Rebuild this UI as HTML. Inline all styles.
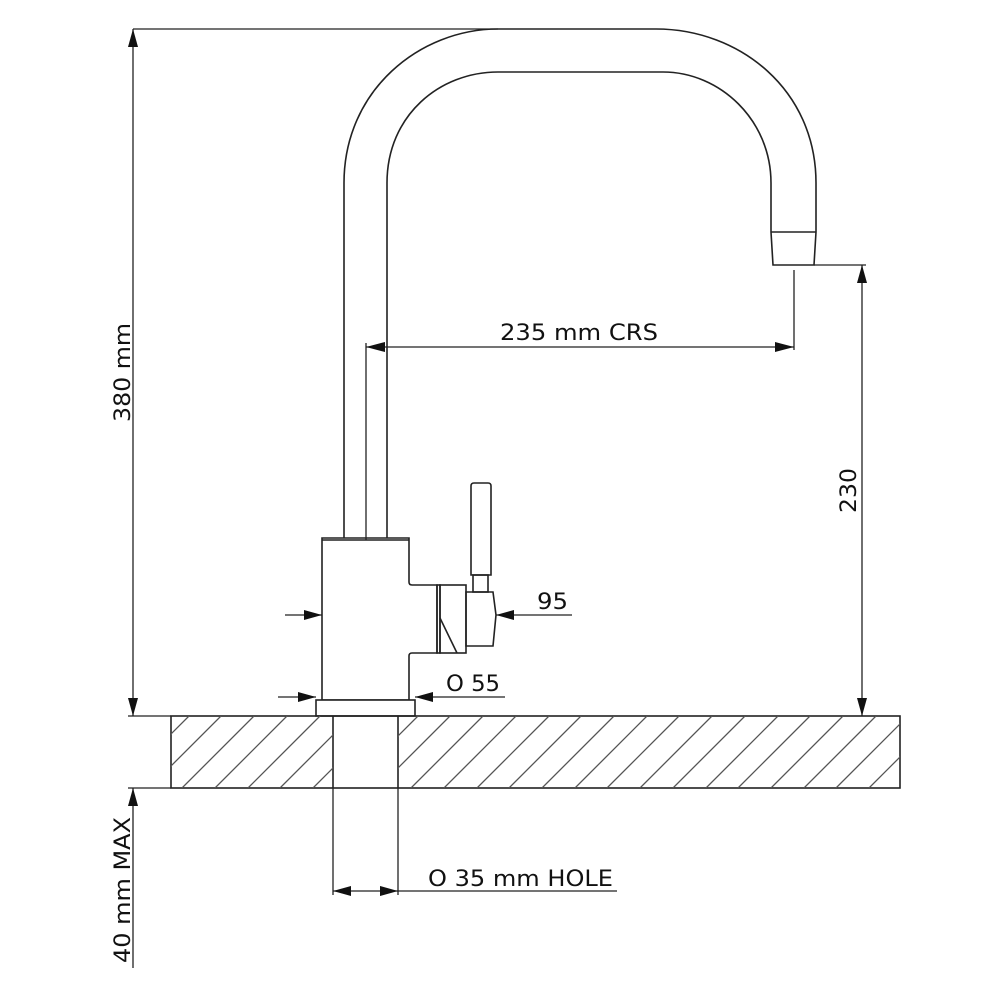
<!DOCTYPE html>
<html><head><meta charset="utf-8"><style>html,body{margin:0;padding:0;background:#fff}svg{display:block}</style></head>
<body>
<svg width="1000" height="1000" viewBox="0 0 1000 1000" xmlns="http://www.w3.org/2000/svg">
<defs>
<clipPath id="hc"><rect x="171" y="716" width="162" height="72"/><rect x="398" y="716" width="502" height="72"/></clipPath>
</defs>
<g fill="none" stroke="#222" stroke-width="1.6">
<!-- spout outer -->
<path d="M344 700 L344 183 C344 90 420 29 498 29 L656 29 C740 29 816 90 816 183 L816 232 L814 265 L773 265 L771 232 L771 183 C771 120 720 72 663 72 L498 72 C440 72 387 115 387 183 L387 540"/>
<line x1="771" y1="232" x2="816" y2="232"/>
<!-- body -->
<path d="M322 538 L409 538 L409 582 Q409 585 412 585 L437 585 L437 653 L412 653 Q409 653 409 656 L409 700 L322 700 Z" fill="#fff"/>
<line x1="322" y1="540" x2="409" y2="540"/>
<rect x="316" y="700" width="99" height="16" fill="#fff"/>
<!-- handle -->
<rect x="437" y="585" width="3" height="68"/>
<rect x="440" y="585" width="26" height="68"/>
<line x1="440" y1="618" x2="457" y2="653"/>
<path d="M466 592 L493 592 L496 615 L493 646 L466 646 Z"/>
<rect x="473" y="575" width="15" height="17"/>
<path d="M471 575 L471 486 Q471 483 474 483 L488 483 Q491 483 491 486 L491 575 Z"/>
<!-- countertop -->
<rect x="171" y="716" width="729" height="72"/>
<line x1="333" y1="716" x2="333" y2="788"/>
<line x1="398" y1="716" x2="398" y2="788"/>
</g>
<g clip-path="url(#hc)" stroke="#555" stroke-width="1.3">
<path d="M84 788 l72 -72 M117 788 l72 -72 M149 788 l72 -72 M182 788 l72 -72 M215 788 l72 -72 M248 788 l72 -72 M280 788 l72 -72 M313 788 l72 -72 M346 788 l72 -72 M378 788 l72 -72 M411 788 l72 -72 M444 788 l72 -72 M477 788 l72 -72 M509 788 l72 -72 M542 788 l72 -72 M575 788 l72 -72 M607 788 l72 -72 M640 788 l72 -72 M673 788 l72 -72 M706 788 l72 -72 M738 788 l72 -72 M771 788 l72 -72 M804 788 l72 -72 M836 788 l72 -72 M869 788 l72 -72 M902 788 l72 -72"/>
</g>
<!-- dimension lines -->
<g stroke="#222" stroke-width="1.3" fill="none">
<line x1="133" y1="29" x2="498" y2="29"/>
<line x1="133" y1="29" x2="133" y2="716"/>
<line x1="128" y1="716" x2="171" y2="716"/>
<line x1="128" y1="788" x2="171" y2="788"/>
<line x1="133" y1="788" x2="133" y2="968"/>
<line x1="814" y1="265" x2="866" y2="265"/>
<line x1="862" y1="265" x2="862" y2="716"/>
<line x1="794" y1="270" x2="794" y2="350"/>
<line x1="366" y1="343" x2="366" y2="540"/>
<line x1="366" y1="347" x2="794" y2="347"/>
<line x1="285" y1="615" x2="322" y2="615"/>
<line x1="496" y1="615" x2="572" y2="615"/>
<line x1="278" y1="697" x2="316" y2="697"/>
<line x1="415" y1="697" x2="505" y2="697"/>
<line x1="333" y1="788" x2="333" y2="895"/>
<line x1="398" y1="788" x2="398" y2="895"/>
<line x1="333" y1="891" x2="617" y2="891"/>
</g>
<g fill="#111">
<polygon points="133,29 128,47 138,47"/>
<polygon points="133,716 128,698 138,698"/>
<polygon points="133,788 128,806 138,806"/>
<polygon points="862,265 857,283 867,283"/>
<polygon points="862,716 857,698 867,698"/>
<polygon points="366,347 385,342 385,352"/>
<polygon points="794,347 775,342 775,352"/>
<polygon points="322,615 304,610 304,620"/>
<polygon points="496,615 514,610 514,620"/>
<polygon points="316,697 298,692 298,702"/>
<polygon points="415,697 433,692 433,702"/>
<polygon points="333,891 351,886 351,896"/>
<polygon points="398,891 380,886 380,896"/>
</g>
<g font-family="'DejaVu Sans','Liberation Sans',sans-serif" font-size="22" fill="#111">
<text x="500" y="340" textLength="158" lengthAdjust="spacingAndGlyphs">235 mm CRS</text>
<text x="537" y="609" textLength="31" lengthAdjust="spacingAndGlyphs">95</text>
<text x="446" y="691" textLength="54" lengthAdjust="spacingAndGlyphs">O 55</text>
<text x="428" y="886" textLength="185" lengthAdjust="spacingAndGlyphs">O 35 mm HOLE</text>
<text transform="translate(130,422) rotate(-90)" textLength="99" lengthAdjust="spacingAndGlyphs">380 mm</text>
<text transform="translate(856,513) rotate(-90)" textLength="45" lengthAdjust="spacingAndGlyphs">230</text>
<text transform="translate(130,963) rotate(-90)" textLength="146" lengthAdjust="spacingAndGlyphs">40 mm MAX</text>
</g>
</svg>
</body></html>
